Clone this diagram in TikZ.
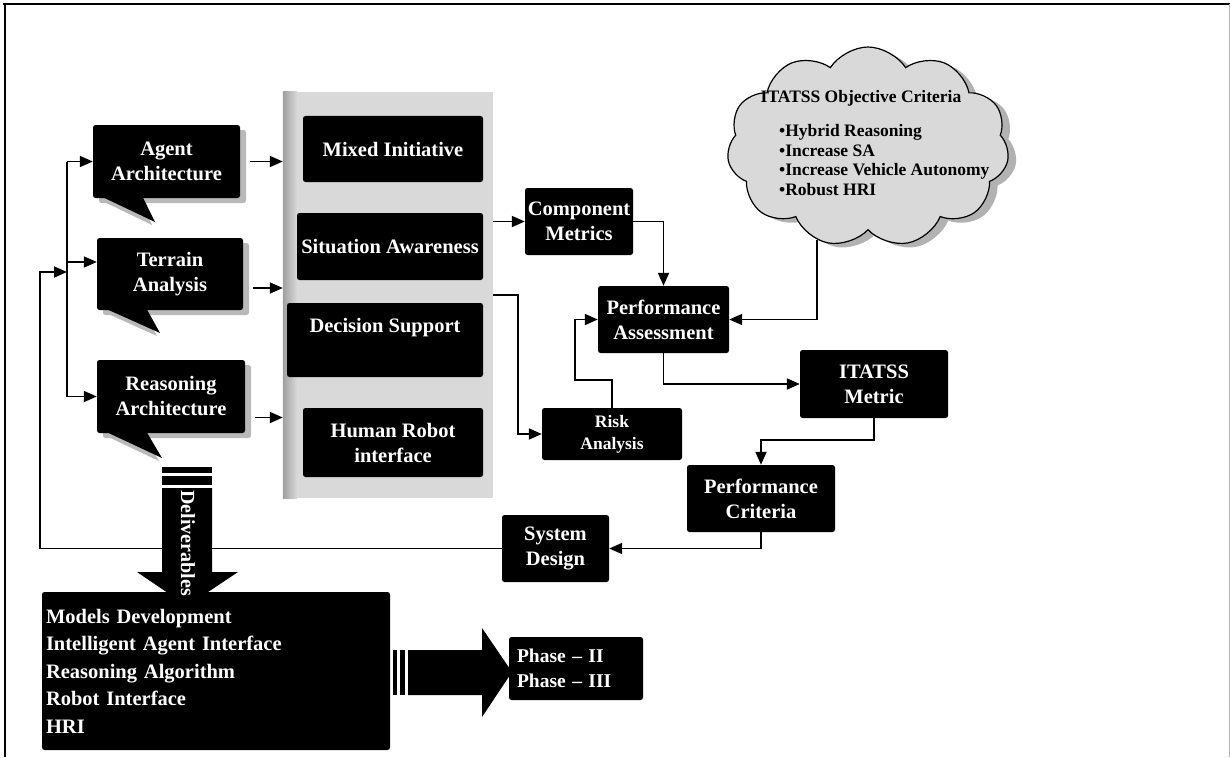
\documentclass[tikz,border=0pt]{standalone}
\usepackage{fontspec}
\setmainfont{Liberation Serif}
\usetikzlibrary{arrows.meta,shapes.symbols,calc,shadows}

\begin{document}
\begin{tikzpicture}[x=1pt,y=-1pt,
  blk/.style={fill=black,text=white,font=\fontsize{20.5}{25}\selectfont\bfseries,
              align=center,inner sep=0pt,rounded corners=2.5pt},
  bshadow/.style={drop shadow={shadow xshift=6pt,shadow yshift=-5pt,fill=gray!55,opacity=1}},
  conn/.style={draw=black,line width=1.8pt,-{Triangle[length=13pt,width=11pt]}},
  wire/.style={draw=black,line width=1.8pt},
  shd/.style={fill=gray!55},
]
\useasboundingbox (0,0) rectangle (1230,757);

% frame
\draw[line width=2.5pt] (3,4) -- (1230,4);
\draw[line width=2.5pt] (5,3) -- (5,757);
\draw[gray!60,line width=0.8pt] (1229,4) -- (1229,757);

% speech-bubble inputs
\node[blk,bshadow,minimum width=147,minimum height=73] (agent) at (166.5,161.5) {Agent\\Architecture};
\node[blk,bshadow,minimum width=146,minimum height=72] (terrain) at (170,274) {Terrain\\Analysis};
\node[blk,bshadow,minimum width=148,minimum height=73] (reason) at (171,396.5) {Reasoning\\Architecture};
\coordinate (tipA) at (155,222);
\coordinate (tipT) at (160,333);
\coordinate (tipR) at (162,458);
\foreach \n/\t in {agent/tipA,terrain/tipT,reason/tipR}{
  \fill[shd] ($(\n.south west)+(12,4)$) -- ($(\t)+(-3,3)$) -- ($(\n.south west)+(48,4)$) -- cycle;
  \fill[black] ($(\n.south west)+(10,-1)$) -- (\t) -- ($(\n.south west)+(50,-1)$) -- cycle;
}

% grey panel with the four capability boxes
\node[fill=gray!30,minimum width=210,minimum height=406,inner sep=0pt] (panel) at (388,295) {};
\shade[left color=gray!75,right color=gray!30] (panel.north west) rectangle ($(panel.south west)+(14,0)$);
\node[blk,minimum width=180,minimum height=66] (mixed) at (393,149) {Mixed Initiative};
\node[blk,minimum width=186,minimum height=67] (sa) at (390,246.5) {Situation Awareness};
\node[blk,minimum width=196,inner ysep=14pt,text height=15pt,text depth=31pt] (ds) at (385,340) {Decision Support};
\node[blk,minimum width=180,minimum height=69] (hri) at (393,442.5) {Human Robot\\interface};

% metric boxes
\node[blk,minimum width=108,minimum height=67] (cm) at (579,221.5) {Component\\Metrics};
\node[blk,minimum width=131,minimum height=67] (pa) at (663.5,319.5) {Performance\\Assessment};
\node[blk,minimum width=140,minimum height=52,font=\fontsize{17.5}{22}\selectfont\bfseries] (risk) at (612,434) {Risk\\Analysis};
\node[blk,minimum width=148,minimum height=68] (itm) at (874,384) {ITATSS\\Metric};
\node[blk,minimum width=148,minimum height=67] (pc) at (761,498.5) {Performance\\Criteria};
\node[blk,minimum width=107,minimum height=67] (sd) at (555.5,548.5) {System\\Design};

% objective criteria cloud
\node[cloud,cloud puffs=11,cloud puff arc=115,cloud ignores aspect,
      minimum width=282,minimum height=200,fill=gray!30,draw=black,line width=1.2pt,
      drop shadow={shadow xshift=8pt,shadow yshift=-4pt,fill=gray!60,opacity=1}] (cloud) at (868,147) {};
\node[font=\fontsize{17.5}{20}\selectfont\bfseries,inner sep=0pt] (ctitle) at (861,98) {ITATSS Objective Criteria};
\node[anchor=north west,align=left,inner sep=0pt,font=\fontsize{17.5}{19.7}\selectfont\bfseries] (clist) at (779,124)
  {•Hybrid Reasoning\\•Increase SA\\•Increase Vehicle Autonomy\\•Robust HRI};

% deliverables and phases
\node[blk,align=left,minimum width=348,minimum height=158,text width=340pt,inner xsep=4pt,
      font=\fontsize{20.5}{27.5}\selectfont\bfseries] (deliv) at (216,671)
  {Models Development\\Intelligent Agent Interface\\Reasoning Algorithm\\Robot Interface\\HRI};
\node[blk,align=left,minimum width=134,minimum height=63,text width=118pt,inner xsep=8pt,
      font=\fontsize{19.5}{25}\selectfont\bfseries] (phase) at (576,668.5)
  {Phase -- II\\Phase -- III};

% inputs into the panel
\draw[conn] ([xshift=10pt]agent.east) -- (agent.east -| panel.west);
\draw[conn] ([xshift=10pt,yshift=-14pt]terrain.east) -- ([yshift=-14pt]terrain.east -| panel.west);
\draw[conn] ([xshift=10pt,yshift=-21pt]reason.east) -- ([yshift=-21pt]reason.east -| panel.west);

% distribution bus on the left
\coordinate (b1) at (67,161.5);
\coordinate (b2) at (67,262);
\coordinate (b3) at (67,396.5);
\draw[wire] (b1) -- (b3);
\draw[conn] (b1) -- (agent.west);
\draw[conn] (b2) -- (b2 -| terrain.west);
\draw[conn] (b3) -- (reason.west);

% feedback from system design
\coordinate (fb) at (67,272);
\coordinate (fc1) at (40,548.5);
\coordinate (fc2) at (40,272);
\draw[conn] (sd.west) -- (fc1) -- (fc2) -- (fb);

% metric flow
\draw[conn] (cm.west -| panel.east) -- (cm.west);
\draw[conn] (cm.east) -| (pa.north);
\coordinate (rk) at (518,295);
\draw[conn] (rk -| panel.east) -- (rk) |- (risk.west);
\coordinate (rc1) at (612,380);
\coordinate (rc2) at (575,380);
\draw[conn] (risk.north) -- (rc1) -- (rc2) |- (pa.west);
\coordinate (cl) at (817,240);
\draw[conn] (cl) |- (pa.east);
\draw[conn] (pa.south) |- (itm.west);
\draw[conn] (itm.south) -- ++(0,22) -| (pc.north);
\draw[conn] (pc.south) |- (sd.east);

% deliverables block arrow
\fill (162,467) rectangle (212,473);
\fill (162,476) rectangle (212,485);
\fill (162,488) -- (212,488) -- (212,572) -- (238,572) -- (187,606) -- (137,572) -- (162,572) -- cycle;
\node[rotate=-90,text=white,font=\fontsize{20}{24}\selectfont\bfseries,inner sep=0pt] (dlab) at (188,543) {Deliverables};

% phase block arrow
\fill (393,650) rectangle (397,695);
\fill (400,650) rectangle (405,695);
\fill (408,650) -- (482,650) -- (482,628) -- (512,672) -- (482,717) -- (482,695) -- (408,695) -- cycle;
\end{tikzpicture}
\end{document}
